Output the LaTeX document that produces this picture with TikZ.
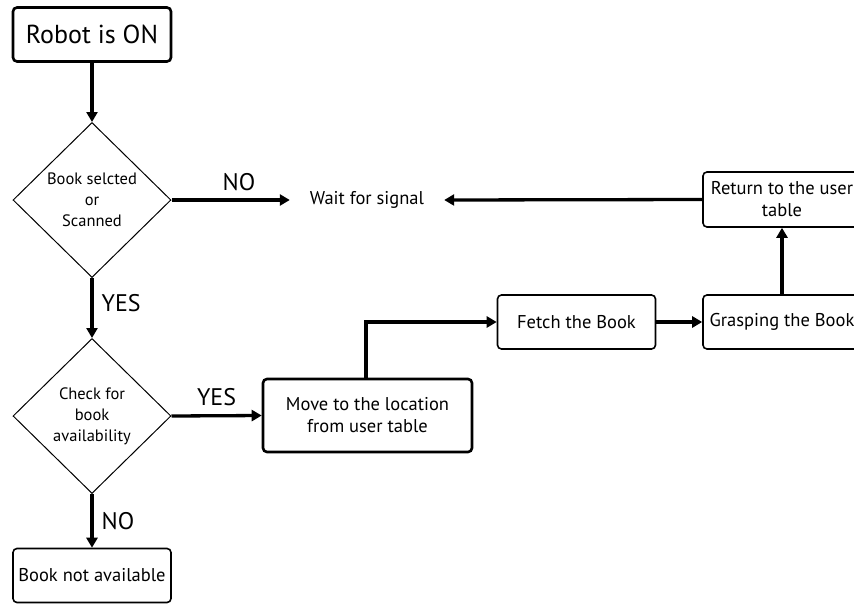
\documentclass[tikz,border=0pt]{standalone}
\usepackage{fontspec}
\setmainfont{PT Sans}
\usetikzlibrary{shapes.geometric,arrows.meta}
\begin{document}
\begin{tikzpicture}[x=1pt,y=-1pt,
  box/.style={draw, rounded corners=4pt, line width=1.6pt, inner sep=0pt, align=center,
    minimum width=158pt, minimum height=54pt, font=\fontsize{18.5}{22}\selectfont},
  bigbox/.style={box, line width=2.6pt},
  dec/.style={draw, shape=diamond, line width=1pt, inner sep=0pt, align=center,
    minimum width=158pt, minimum height=155pt, font=\fontsize{16.5}{21}\selectfont},
  arr/.style={line width=3.3pt, -{Triangle[length=10pt,width=11pt]}},
  lab/.style={font=\fontsize{24}{28}\selectfont, inner sep=0pt}
]
\useasboundingbox (0,0) rectangle (854,603);
\node[bigbox, font=\fontsize{26}{30}\selectfont] (robot) at (92,34.5) {Robot is ON};
\node[dec] (d1) at (92,200) {Book selcted\\or\\Scanned};
\node[dec] (d2) at (92,416) {Check for\\book\\availability};
\node[box] (notav) at (92,575.5) {Book not available};
\node[bigbox, minimum width=209pt, minimum height=73pt] (move) at (367.5,415.5) {Move to the location\\from user table};
\node[box] (fetch) at (576.5,322) {Fetch the Book};
\node[box] (grasp) at (782,322) {Grasping the Book};
\node[box, minimum height=55pt] (ret) at (782,199.5) {Return to the user\\table};
\node[font=\fontsize{18.5}{22}\selectfont, minimum width=154pt, inner sep=0pt] (wait) at (367,200) {Wait for signal};

\draw[arr] (robot.south) -- (d1.north);
\draw[arr] (d1.east) -- node[lab, above=8pt, pos=0.57] {NO} (wait.west);
\draw[arr] (ret.west) -- (wait.east);
\draw[arr] (grasp.north) -- (ret.south);
\draw[arr] (fetch.east) -- (grasp.west);
\draw[arr] ([xshift=-1.5pt]move.north) |- (fetch.west);
\draw[arr] (d1.south) -- node[lab, right=8pt, pos=0.42] {YES} (d2.north);
\draw[arr] (d2.east) -- node[lab, above=8pt, pos=0.5] {YES} (move.west);
\draw[arr] (d2.south) -- node[lab, right=8pt, pos=0.5] {NO} (notav.north);
\end{tikzpicture}
\end{document}
